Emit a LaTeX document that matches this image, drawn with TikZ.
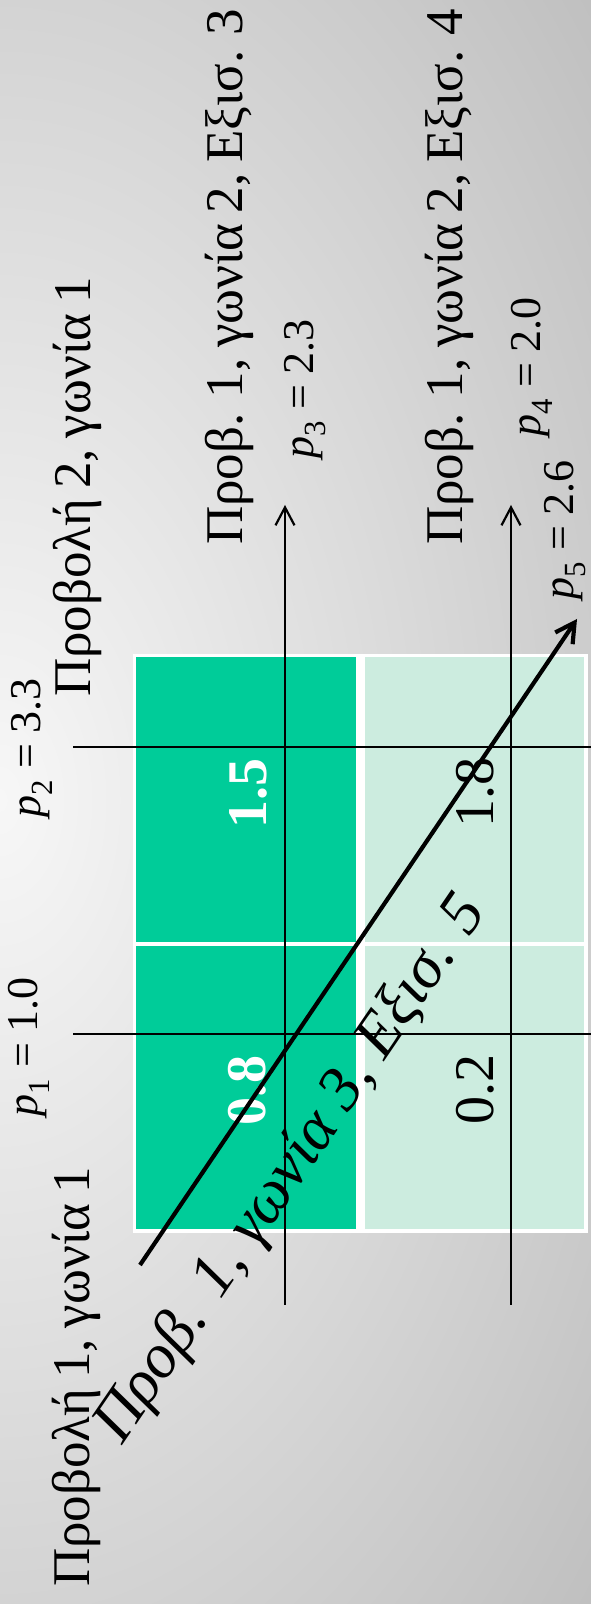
\documentclass[tikz,border=0pt]{standalone}
\usepackage{fontspec}
\setmainfont{Liberation Serif}
\newfontfamily\tightfont[WordSpace=0.8]{Liberation Serif}
\usetikzlibrary{arrows.meta}
\definecolor{dkgreen}{HTML}{00CC99}
\definecolor{ltgreen}{HTML}{CCECDF}
\definecolor{bgin}{HTML}{F7F7F7}
\definecolor{bgout}{HTML}{A2A2A2}
\begin{document}
\begin{tikzpicture}[x=1pt,y=1pt,
  biglbl/.style={inner sep=0pt, font=\tightfont\fontsize{53}{58}\selectfont, rotate=90, anchor=base west},
  plbl/.style={inner sep=0pt, font=\fontsize{44}{48}\selectfont, rotate=90},
  numlbl/.style={inner sep=0pt, font=\fontsize{56}{60}\selectfont, rotate=90},
  thinln/.style={line width=2.2pt, black},
  thinarr/.style={line width=2.2pt, black, -{Straight Barb[length=18pt,width=19pt]}},
  thickarr/.style={line width=4.2pt, black, -{Straight Barb[length=19pt,width=21pt]}}]
\useasboundingbox (0,0) rectangle (591,1604);
% background
\begin{scope}
  \clip (0,0) rectangle (591,1604);
  \shade[inner color=bgin, outer color=bgout] (0,804) ellipse [x radius=1200, y radius=1900];
\end{scope}
% table
\fill[white] (133,371) rectangle (588,950);
\fill[dkgreen] (136,375) rectangle (356,947);
\fill[ltgreen] (365,375) rectangle (584,947);
\fill[white] (133,658) rectangle (588,661.5);
% numbers
\node[numlbl, white, font=\fontsize{56}{60}\selectfont\bfseries] (n15) at (248,810) {1.5};
\node[numlbl, white, font=\fontsize{56}{60}\selectfont\bfseries] (n08) at (247,513) {0.8};
\node[numlbl] (n18) at (475,811) {1.8};
\node[numlbl] (n02) at (475,514) {0.2};
% horizontal lines p1, p2
\coordinate (p1a) at (73,570);
\coordinate (p1b) at (591,570);
\coordinate (p2a) at (73,857);
\coordinate (p2b) at (591,857);
\draw[thinln] (p1a) -- (p1b);
\draw[thinln] (p2a) -- (p2b);
% vertical arrows p3, p4
\coordinate (p3a) at (285,299);
\coordinate (p3b) at (285,1099);
\coordinate (p4a) at (511,299);
\coordinate (p4b) at (511,1099);
\draw[thinarr] (p3a) -- (p3b);
\draw[thinarr] (p4a) -- (p4b);
% diagonal arrow p5
\coordinate (p5a) at (140,339);
\coordinate (p5b) at (577,985);
\draw[thickarr] (p5a) -- (p5b);
% p labels
\node[plbl] (l1) at (29,557) {\textit{p}\textsubscript{1} = 1.0};
\node[plbl] (l2) at (32,856) {\textit{p}\textsubscript{2} = 3.3};
\node[plbl] (l3) at (305,1215) {\textit{p}\textsubscript{3} = 2.3};
\node[plbl] (l4) at (532,1237) {\textit{p}\textsubscript{4} = 2.0};
\node[plbl] (l5) at (565,1074) {\textit{p}\textsubscript{5} = 2.6};
% big labels
\node[biglbl] (t1) at (89,17) {Προβολή 1, γωνία 1};
\node[biglbl] (t2) at (90,907) {Προβολή 2, γωνία 1};
\node[biglbl] (t3) at (242,1059) {Προβ. 1, γωνία 2, Εξισ. 3};
\node[biglbl] (t4) at (462,1059) {Προβ. 1, γωνία 2, Εξισ. 4};
\node[inner sep=0pt, font=\fontsize{63}{67}\selectfont\itshape, rotate=55.7, anchor=base west] (t5) at (122,158) {Προβ. 1, γωνία 3, Εξισ. 5};
\end{tikzpicture}
\end{document}
